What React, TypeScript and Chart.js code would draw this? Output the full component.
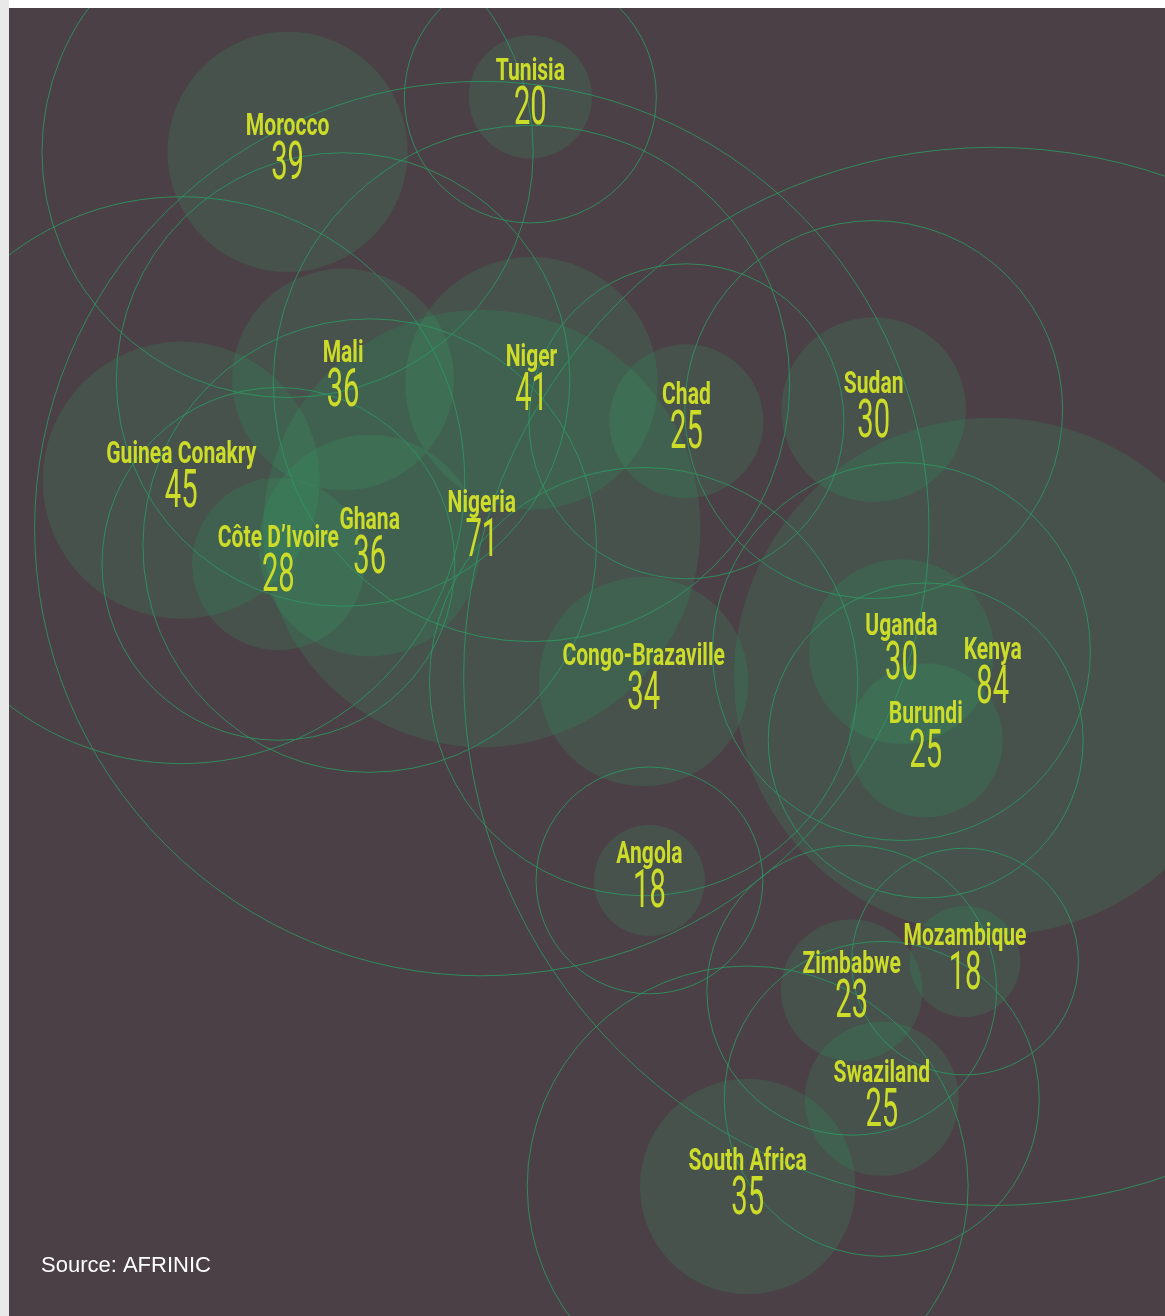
import React, { useEffect, useRef } from "react";
import { Chart, registerables } from "chart.js";

Chart.register(...registerables);

// ---- data ----
const countries = [
  "Morocco", "Tunisia", "Mali", "Niger", "Chad", "Sudan", "Guinea Conakry",
  "Côte D’Ivoire", "Ghana", "Nigeria", "Congo-Brazaville", "Uganda", "Kenya",
  "Burundi", "Angola", "Mozambique", "Zimbabwe", "Swaziland", "South Africa",
];
const values = [39, 20, 36, 41, 25, 30, 45, 28, 36, 71, 34, 30, 84, 25, 18, 18, 23, 25, 35];
// schematic map position (0–100 grid, x to the east, y to the south)
const mapX = [24.1, 45.1, 28.9, 45.2, 58.6, 74.8, 14.9, 23.3, 31.2, 40.9, 54.9, 77.2, 85.1, 79.3, 55.4, 82.7, 72.9, 75.5, 63.9];
const mapY = [11.0, 6.8, 28.4, 28.7, 31.6, 30.7, 36.1, 42.5, 41.1, 39.8, 51.5, 49.2, 51.1, 56.0, 66.7, 72.9, 75.1, 83.4, 90.1];
const sourceText = "Source: AFRINIC";

// ---- styling ----
const BG = "#4a4045";
const FILL = "rgba(45,170,105,0.17)";
const RING = "rgba(45,150,100,0.85)";
const TEXT = "#cddc29";
const PX_PER_UNIT = 3.08;
const RING_FACTOR = 2.045;

function drawCondensed(ctx: CanvasRenderingContext2D, text: string, x: number, y: number, font: string, sx: number) {
  ctx.save();
  ctx.translate(x, y);
  ctx.scale(sx, 1);
  ctx.font = font;
  ctx.textAlign = "center";
  ctx.textBaseline = "alphabetic";
  ctx.fillText(text, 0, 0);
  ctx.restore();
}

const labelPlugin = {
  id: "countryLabels",
  afterDraw(chart: any) {
    const ctx: CanvasRenderingContext2D = chart.ctx;
    const meta = chart.getDatasetMeta(1);
    ctx.save();
    ctx.fillStyle = TEXT;
    meta.data.forEach((el: any, i: number) => {
      drawCondensed(ctx, countries[i], el.x, el.y - 17, "bold 31px Roboto", 0.68);
      drawCondensed(ctx, String(values[i]), el.x, el.y + 27, "400 53px Roboto", 0.55);
    });
    const area = chart.chartArea;
    ctx.fillStyle = "#ffffff";
    ctx.font = "22px 'Liberation Sans', Arial, sans-serif";
    ctx.textAlign = "left";
    ctx.textBaseline = "alphabetic";
    ctx.fillText(sourceText, area.left + 32, area.bottom - 44);
    ctx.restore();
  },
};

export default function App() {
  const ref = useRef<HTMLCanvasElement>(null);
  useEffect(() => {
    const points = values.map((v, i) => ({ x: mapX[i], y: mapY[i], v }));
    const chart = new Chart(ref.current!, {
      type: "bubble",
      data: {
        datasets: [
          {
            label: "ring",
            data: points.map((p) => ({ x: p.x, y: p.y, r: p.v * PX_PER_UNIT * RING_FACTOR })),
            backgroundColor: "rgba(0,0,0,0)",
            borderColor: RING,
            borderWidth: 1,
            hoverBorderWidth: 1,
            order: 1,
          },
          {
            label: "fill",
            data: points.map((p) => ({ x: p.x, y: p.y, r: p.v * PX_PER_UNIT })),
            backgroundColor: FILL,
            borderWidth: 0,
            hoverBorderWidth: 0,
            order: 2,
          },
        ],
      },
      options: {
        animation: false,
        responsive: false,
        devicePixelRatio: 1,
        events: [],
        layout: { padding: 0, autoPadding: false },
        plugins: { legend: { display: false }, tooltip: { enabled: false } },
        scales: {
          x: { type: "linear", min: 0, max: 100, display: false },
          y: { type: "linear", min: 0, max: 100, reverse: true, display: false },
        },
      },
      plugins: [labelPlugin],
    } as any);
    return () => chart.destroy();
  }, []);

  return (
    <>
      <div style={{ position: "fixed", left: 0, top: 0, width: 9, height: 1316, background: "#e9e9e9" }} />
      <canvas
        ref={ref}
        width={1156}
        height={1308}
        style={{ position: "fixed", left: 9, top: 8, width: 1156, height: 1308, background: BG }}
      />
    </>
  );
}
